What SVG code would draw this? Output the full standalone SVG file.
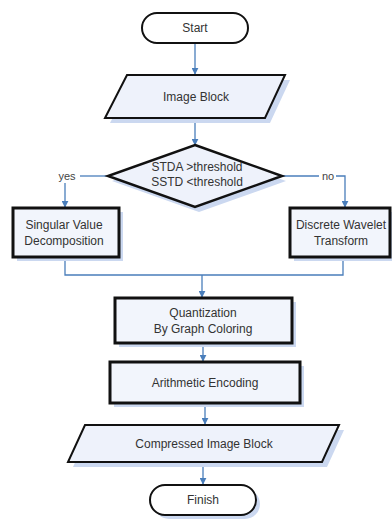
<svg xmlns="http://www.w3.org/2000/svg" width="392" height="520" viewBox="0 0 392 520">
<style>
.t{font-family:"Liberation Sans",Arial,sans-serif;font-size:12px;fill:#333;text-anchor:middle}
.lbl{font-family:"Liberation Sans",Arial,sans-serif;font-size:11px;fill:#444;text-anchor:middle}
.term{fill:#ffffff;stroke:#111;stroke-width:2}
.box{fill:#f2f5fc;stroke:#111;stroke-width:3}
.io{fill:#eef2fb;stroke:#111;stroke-width:2}
.sh{fill:#cbd8f0;stroke:none}
.c{fill:none;stroke:#4a7ebb;stroke-width:1.3}
</style>
<defs>
<marker id="ah" viewBox="0 0 10 10" refX="9" refY="5" markerWidth="7" markerHeight="7" markerUnits="userSpaceOnUse" orient="auto">
<path d="M0,0 L10,5 L0,10 z" fill="#4a7ebb"/>
</marker>
<linearGradient id="g" x1="0" y1="0" x2="0" y2="1">
<stop offset="0" stop-color="#ffffff"/>
<stop offset="1" stop-color="#e6ecf8"/>
</linearGradient>
</defs>
<rect width="392" height="520" fill="#ffffff"/>
<g id="connectors">
<path class="c" d="M195,43 V74" marker-end="url(#ah)"/>
<path class="c" d="M195,118 V145" marker-end="url(#ah)"/>
<path class="c" d="M108,176 H80"/>
<path class="c" d="M65,183 V207" marker-end="url(#ah)"/>
<path class="c" d="M282,176 H319"/>
<path class="c" d="M336,176 H345 V207" marker-end="url(#ah)"/>
<path class="c" d="M65,257 V275 H343 V257"/>
<path class="c" d="M202,275 V297" marker-end="url(#ah)"/>
<path class="c" d="M203,343 V361" marker-end="url(#ah)"/>
<path class="c" d="M205,403 V424" marker-end="url(#ah)"/>
<path class="c" d="M203,462 V484" marker-end="url(#ah)"/>
</g>
<g id="start">
<rect class="term" x="142" y="13" width="106" height="30" rx="15"/>
<text class="t" x="195" y="32">Start</text>
</g>
<g id="image-block">
<polygon class="sh" points="132,80 290,80 270,123 110,123"/>
<polygon class="io" fill="url(#g)" points="127,75 285,75 265,118 105,118"/>
<text class="t" x="196" y="101">Image Block</text>
</g>
<g id="decision">
<polygon class="sh" points="199,150 286,181 199,212 112,181"/>
<polygon class="io" style="stroke-width:2.5" fill="#ffffff" points="195,145 282,176 195,207 108,176"/>
<text class="t" x="197" y="171">STDA &gt;threshold</text>
<text class="t" x="197" y="186">SSTD &lt;threshold</text>
<text class="lbl" x="67" y="180">yes</text>
<text class="lbl" x="328" y="180">no</text>
</g>
<g id="svd">
<rect class="sh" x="17" y="212" width="106" height="49"/>
<rect class="box" x="13" y="208" width="106" height="49"/>
<text class="t" x="64" y="229">Singular Value</text>
<text class="t" x="64" y="245">Decomposition</text>
</g>
<g id="dwt">
<rect class="sh" x="294" y="212" width="100" height="49"/>
<rect class="box" x="290" y="208" width="100" height="49"/>
<text class="t" x="341" y="229">Discrete Wavelet</text>
<text class="t" x="341" y="245">Transform</text>
</g>
<g id="quantization">
<rect class="sh" x="119" y="302" width="177" height="45"/>
<rect class="box" x="115" y="298" width="177" height="45"/>
<text class="t" x="203" y="317">Quantization</text>
<text class="t" x="203" y="333">By Graph Coloring</text>
</g>
<g id="arithmetic">
<rect class="sh" x="114" y="366" width="190" height="41"/>
<rect class="box" x="110" y="362" width="190" height="41"/>
<text class="t" x="205" y="387">Arithmetic Encoding</text>
</g>
<g id="compressed">
<polygon class="sh" points="90,430 344,430 327,467 73,467"/>
<polygon class="io" fill="url(#g)" points="85,425 339,425 322,462 68,462"/>
<text class="t" x="204" y="448">Compressed Image Block</text>
</g>
<g id="finish">
<rect class="sh" x="154" y="489" width="106" height="30" rx="15"/>
<rect class="term" x="150" y="485" width="106" height="30" rx="15"/>
<text class="t" x="203" y="504">Finish</text>
</g>
</svg>
